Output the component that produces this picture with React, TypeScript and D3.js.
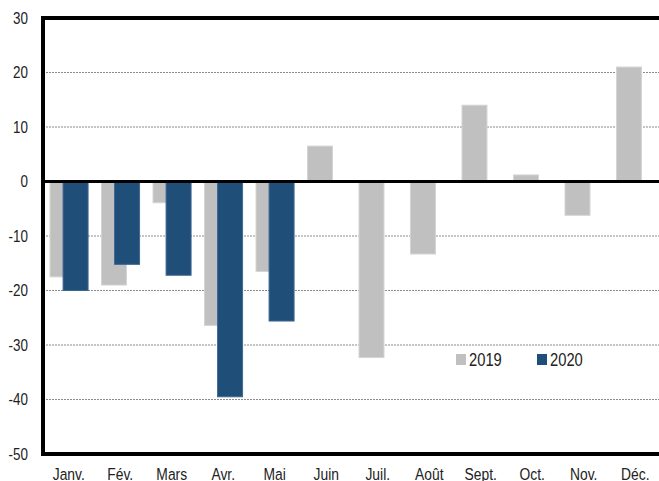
import React, { useEffect, useRef } from "react";
import * as d3 from "d3";

const months = ["Janv.", "Fév.", "Mars", "Avr.", "Mai", "Juin", "Juil.", "Août", "Sept.", "Oct.", "Nov.", "Déc."];
const values2019 = [-17.5, -19, -3.9, -26.4, -16.5, 6.5, -32.3, -13.3, 14, 1.2, -6.2, 21];
const values2020 = [-20, -15.2, -17.2, -39.5, -25.6];
const yTicks = [30, 20, 10, 0, -10, -20, -30, -40, -50];
const series = [
  { name: "2019", color: "#c0c0c0", edge: "#d4d4d4" },
  { name: "2020", color: "#1f4e79", edge: "#3d6890" }
];

const width = 659;
const height = 481;
const margin = { top: 18, right: -2, bottom: 27, left: 43 };
const font = "'Liberation Sans Narrow', 'Arial Narrow', 'Liberation Sans', sans-serif";
const squeeze = 0.84; // narrow font look

const App = () => {
  const ref = useRef<SVGSVGElement>(null);

  useEffect(() => {
    const svg = d3.select(ref.current);
    svg.selectAll("*").remove();

    const x = d3
      .scaleBand()
      .domain(months)
      .range([margin.left, width - margin.right])
      .padding(0);
    const y = d3
      .scaleLinear()
      .domain([-50, 30])
      .range([height - margin.bottom, margin.top]);

    const bw = x.bandwidth();
    const barW = bw * 0.485;

    // grid lines
    svg
      .append("g")
      .selectAll("line")
      .data(yTicks.filter(t => t !== 0 && t !== 30 && t !== -50))
      .join("line")
      .attr("x1", margin.left)
      .attr("x2", width)
      .attr("y1", d => y(d))
      .attr("y2", d => y(d))
      .attr("stroke", "#8a8a8a")
      .attr("stroke-width", 1)
      .attr("stroke-dasharray", "2,1");

    const bar = (v: number) => ({ y: Math.min(y(0), y(v)), h: Math.abs(y(v) - y(0)) });

    // 2019 bars
    svg
      .append("g")
      .selectAll("rect")
      .data(values2019)
      .join("rect")
      .attr("x", (d, i) => x(months[i])! + bw * 0.136)
      .attr("y", d => bar(d).y)
      .attr("width", barW)
      .attr("height", d => bar(d).h)
      .attr("fill", series[0].color)
      .attr("stroke", series[0].edge)
      .attr("stroke-width", 1);

    // 2020 bars
    svg
      .append("g")
      .selectAll("rect")
      .data(values2020)
      .join("rect")
      .attr("x", (d, i) => x(months[i])! + bw * 0.39)
      .attr("y", d => bar(d).y)
      .attr("width", barW)
      .attr("height", d => bar(d).h)
      .attr("fill", series[1].color)
      .attr("stroke", series[1].edge)
      .attr("stroke-width", 1);

    // zero line
    svg
      .append("line")
      .attr("x1", margin.left)
      .attr("x2", width)
      .attr("y1", y(0))
      .attr("y2", y(0))
      .attr("stroke", "#000")
      .attr("stroke-width", 3);

    // frame
    svg
      .append("rect")
      .attr("x", margin.left)
      .attr("y", y(30))
      .attr("width", width - margin.right - margin.left)
      .attr("height", y(-50) - y(30))
      .attr("fill", "none")
      .attr("stroke", "#000")
      .attr("stroke-width", 4);

    // y axis labels
    svg
      .append("g")
      .selectAll("text")
      .data(yTicks)
      .join("text")
      .attr("transform", d => `translate(28,${y(d)}) scale(${squeeze},1)`)
      .attr("dy", "0.35em")
      .attr("text-anchor", "end")
      .attr("font-family", font)
      .attr("font-size", 16)
      .attr("fill", "#222")
      .text(d => d);

    // x axis labels
    svg
      .append("g")
      .selectAll("text")
      .data(months)
      .join("text")
      .attr("transform", d => `translate(${x(d)! + bw / 2},480) scale(${squeeze},1)`)
      .attr("text-anchor", "middle")
      .attr("font-family", font)
      .attr("font-size", 16.5)
      .attr("fill", "#222")
      .text(d => d);

    // legend
    const legend = svg
      .append("g")
      .selectAll("g")
      .data(series)
      .join("g")
      .attr("transform", (d, i) => `translate(${456 + i * 81},${354})`);
    legend
      .append("rect")
      .attr("width", 10)
      .attr("height", 11)
      .attr("fill", d => d.color);
    legend
      .append("text")
      .attr("transform", `translate(13,12) scale(0.82,1)`)
      .attr("font-family", font)
      .attr("font-size", 18)
      .attr("fill", "#222")
      .text(d => d.name);
  }, []);

  return (
    <svg
      ref={ref}
      width={width}
      height={height}
      style={{ position: "absolute", left: 0, top: 0, background: "#fff" }}
    />
  );
};

export default App;
